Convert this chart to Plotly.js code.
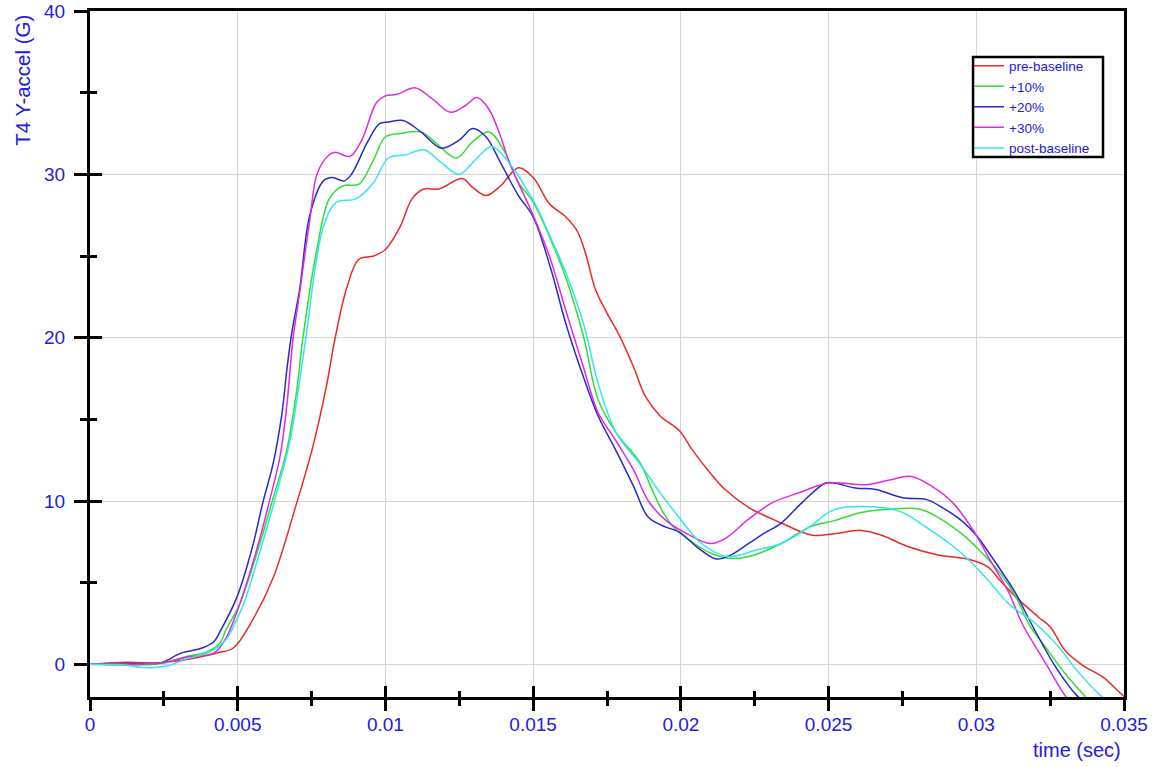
<!DOCTYPE html>
<html>
<head>
<meta charset="utf-8">
<script src="https://cdn.plot.ly/plotly-3.0.1.min.js"></script>
<style>html,body{margin:0;padding:0;background:#fff;}#chart{width:1157px;height:767px;}</style>
</head>
<body>
<div id="chart"></div>
<script>
// ---- data (time in sec, acceleration in G) ----
var seriesNames = ["pre-baseline", "+10%", "+20%", "+30%", "post-baseline"];

var preX = [0,0.00125,0.0024,0.0035,0.0043,0.00485,0.0055,0.0062,0.007,0.00754,0.008,0.0083,0.0087,0.0091,0.0096,0.01,0.0105,0.0109,0.0113,0.0118,0.0126,0.01295,0.0134,0.0139,0.0145,0.015,0.01555,0.0161,0.0165,0.0168,0.0171,0.0175,0.0179,0.0184,0.0188,0.0193,0.01995,0.0204,0.021,0.0215,0.0223,0.0234,0.02445,0.0252,0.0261,0.0268,0.0277,0.0287,0.0298,0.0304,0.0308,0.03135,0.0321,0.0325,0.033,0.0336,0.0343,0.0349,0.0351];
var preY = [0,0.12,0.1,0.37,0.7,1.0,2.7,5.3,9.9,13.3,17.0,20.0,23.1,24.8,25.0,25.4,26.8,28.5,29.1,29.1,29.75,29.2,28.7,29.3,30.4,29.8,28.2,27.4,26.5,25.0,23.0,21.5,20.2,18.2,16.4,15.2,14.3,13.1,11.7,10.7,9.6,8.65,7.9,8.0,8.2,7.9,7.2,6.7,6.4,5.95,5.15,4.1,2.9,2.3,0.86,-0.06,-0.8,-1.8,-2.1];

var p10X = [0,0.0024,0.0033,0.00395,0.0044,0.0046,0.00507,0.00575,0.0062,0.00666,0.007,0.0072,0.0077,0.0081,0.00856,0.0091,0.0096,0.01,0.0105,0.0112,0.0116,0.0124,0.01295,0.0135,0.014,0.0145,0.015,0.01555,0.0161,0.0167,0.0172,0.0178,0.0186,0.019,0.0194,0.0198,0.0203,0.0209,0.0216,0.0223,0.0234,0.02435,0.0252,0.0261,0.0271,0.0281,0.0287,0.0295,0.0301,0.0308,0.03135,0.0318,0.03235,0.033,0.03365,0.0338];
var p10Y = [0,0.05,0.5,0.75,1.3,2.1,3.7,7.4,10.2,13.1,16.8,19.9,25.6,28.5,29.3,29.4,30.9,32.3,32.5,32.6,32.1,31.0,32.0,32.6,31.5,29.5,28.3,26.2,23.7,20.1,16.2,14.2,12.4,10.8,9.3,8.3,7.6,6.9,6.5,6.6,7.4,8.4,8.8,9.3,9.5,9.5,9.0,8.0,7.0,5.6,4.1,2.4,1.04,-0.55,-1.9,-2.2];

var p20X = [0,0.0018,0.0024,0.0031,0.0038,0.0042,0.0044,0.00497,0.0055,0.00585,0.0062,0.0065,0.00666,0.00683,0.0071,0.00744,0.0079,0.0082,0.0086,0.00885,0.0094,0.0098,0.0101,0.0106,0.0112,0.0119,0.0125,0.01295,0.0134,0.0139,0.0145,0.015,0.0156,0.0161,0.0167,0.0172,0.0178,0.0184,0.0189,0.0195,0.01995,0.0206,0.0212,0.0217,0.0223,0.0228,0.0234,0.0241,0.0249,0.0252,0.0259,0.0266,0.0275,0.0283,0.02885,0.0295,0.03,0.0304,0.03135,0.0318,0.0327,0.0334,0.0336];
var p20Y = [0,0.05,0.1,0.7,1.0,1.4,2.0,4.1,7.2,9.9,12.3,15.4,18.0,20.3,23.0,27.5,29.6,29.8,29.6,30.0,32.0,33.1,33.2,33.3,32.6,31.6,32.1,32.8,32.3,30.7,28.7,27.4,24.2,20.9,17.6,15.2,13.1,10.9,9.0,8.4,8.1,7.1,6.45,6.7,7.4,8.0,8.65,9.9,11.1,11.1,10.8,10.7,10.2,10.1,9.6,8.8,7.9,6.9,4.3,2.7,-0.2,-1.9,-2.2];

var p30X = [0,0.0024,0.0033,0.0042,0.0046,0.00507,0.00564,0.00609,0.00643,0.00666,0.00687,0.0071,0.00744,0.0077,0.0081,0.0083,0.0088,0.0092,0.0097,0.01,0.0104,0.011,0.0116,0.0122,0.0127,0.0131,0.0135,0.0139,0.0142,0.015,0.01555,0.0161,0.0167,0.0172,0.0178,0.0184,0.0189,0.0195,0.0202,0.021,0.0215,0.0223,0.0231,0.024,0.025,0.0263,0.0271,0.0278,0.0285,0.0292,0.0299,0.0304,0.0311,0.03155,0.03235,0.033,0.0332];
var p30Y = [0,0.1,0.45,0.7,1.6,3.7,7.0,10.1,12.7,15.8,19.9,22.8,27.2,30.1,31.2,31.35,31.1,32.1,34.4,34.8,34.9,35.3,34.6,33.8,34.2,34.7,34.0,32.3,30.7,27.5,25.0,21.7,18.2,15.4,13.7,11.9,10.0,8.8,8.0,7.4,7.7,8.9,9.9,10.5,11.1,11.0,11.3,11.5,10.9,9.9,8.2,6.6,4.4,2.5,0.06,-1.9,-2.3];

var postX = [0,0.00125,0.0018,0.0026,0.0033,0.00405,0.0046,0.0049,0.0052,0.0058,0.00626,0.00676,0.0071,0.0073,0.0079,0.00835,0.009,0.0096,0.0101,0.0107,0.0113,0.0119,0.0125,0.0131,0.0136,0.0141,0.015,0.01555,0.0161,0.0167,0.0172,0.0178,0.0186,0.0193,0.01985,0.0207,0.0216,0.02255,0.0234,0.02435,0.025,0.0255,0.0268,0.0275,0.0283,0.0291,0.0298,0.0304,0.0311,0.032,0.0328,0.0334,0.0342,0.0344];
var postY = [0,-0.05,-0.2,-0.1,0.35,0.75,1.5,2.5,3.7,7.2,10.1,13.6,17.4,19.9,26.8,28.3,28.5,29.5,31.0,31.2,31.5,30.7,30.0,31.0,31.7,30.9,28.4,26.3,24.0,20.9,17.2,14.2,12.3,10.5,9.2,7.4,6.6,7.0,7.4,8.4,9.3,9.6,9.6,9.3,8.4,7.4,6.3,5.15,3.7,2.5,1.04,-0.37,-1.9,-2.2];

var xRange = [0, 0.035];
var yRange = [-2, 40];
var xTickVals = [0, 0.005, 0.01, 0.015, 0.02, 0.025, 0.03, 0.035];
var xTickText = ["0", "0.005", "0.01", "0.015", "0.02", "0.025", "0.03", "0.035"];
var xMinorVals = [0.0025, 0.0075, 0.0125, 0.0175, 0.0225, 0.0275, 0.0325];
var yTickVals = [0, 10, 20, 30, 40];
var yTickText = ["0", "10", "20", "30", "40"];
var yInnerTickVals = [10, 20, 30, 40];
var yMinorVals = [5, 15, 25, 35];

// ---- styling ----
var colors = ["#e82a2a", "#33dd33", "#2a2ac8", "#e02ae0", "#30e6f0"];
var txtBlue = "#2020e0";
var fontFam = "Liberation Sans, Arial, sans-serif";

var xs = [preX, p10X, p20X, p30X, postX];
var ys = [preY, p10Y, p20Y, p30Y, postY];
var traces = [];
for (var i = 0; i < xs.length; i++) {
  traces.push({
    x: xs[i], y: ys[i], name: seriesNames[i], type: "scatter", mode: "lines",
    line: {color: colors[i], width: 1.5, shape: "spline", smoothing: 1},
    hoverinfo: "skip"
  });
}
// empty trace to activate the overlay axes (inner half of crossing ticks)
traces.push({x: [], y: [], xaxis: "x2", yaxis: "y2", showlegend: false, mode: "lines"});

var layout = {
  width: 1157, height: 767,
  margin: {l: 90, r: 33, t: 11, b: 70},
  paper_bgcolor: "#ffffff", plot_bgcolor: "#ffffff",
  font: {family: fontFam, color: txtBlue, size: 19},
  showlegend: true,
  legend: {
    x: 0.8501, y: 0.9425, xanchor: "left", yanchor: "top",
    bgcolor: "rgba(0,0,0,0)", borderwidth: 0,
    font: {family: fontFam, size: 13.5, color: txtBlue},
    itemwidth: 30, tracegroupgap: 0
  },
  shapes: [
    {type: "rect", xref: "paper", yref: "paper", x0: 0.854, x1: 0.9797, y0: 0.7872, y1: 0.933,
     fillcolor: "#ffffff", line: {color: "#000000", width: 2.5}, layer: "above"}
  ],
  xaxis: {
    range: xRange, tickmode: "array", tickvals: xTickVals, ticktext: xTickText,
    ticks: "outside", ticklen: 11, tickwidth: 3, tickcolor: "#000",
    showline: true, linewidth: 3, linecolor: "#000", mirror: true,
    showgrid: true, gridcolor: "#d4d4d4", gridwidth: 1, zeroline: false,
    tickfont: {size: 19, color: txtBlue}, ticklabelstandoff: -3,
    minor: {tickmode: "array", tickvals: xMinorVals, ticks: "outside", ticklen: 6, tickwidth: 3, tickcolor: "#000", showgrid: false}
  },
  yaxis: {
    range: yRange, tickmode: "array", tickvals: yTickVals, ticktext: yTickText,
    ticks: "outside", ticklen: 13, tickwidth: 3, tickcolor: "#000",
    showline: true, linewidth: 3, linecolor: "#000", mirror: true,
    showgrid: true, gridcolor: "#d4d4d4", gridwidth: 1, zeroline: false,
    tickfont: {size: 19, color: txtBlue}, ticklabelstandoff: 5,
    minor: {tickmode: "array", tickvals: yMinorVals, ticks: "outside", ticklen: 7, tickwidth: 3, tickcolor: "#000", showgrid: false}
  },
  xaxis2: {
    overlaying: "x", anchor: "y2", side: "bottom", range: xRange,
    tickmode: "array", tickvals: xTickVals, showticklabels: false,
    ticks: "inside", ticklen: 11, tickwidth: 3, tickcolor: "#000",
    showline: false, showgrid: false, zeroline: false,
    minor: {tickmode: "array", tickvals: xMinorVals, ticks: "inside", ticklen: 6, tickwidth: 3, tickcolor: "#000", showgrid: false}
  },
  yaxis2: {
    overlaying: "y", anchor: "x2", side: "left", range: yRange,
    tickmode: "array", tickvals: yInnerTickVals, showticklabels: false,
    ticks: "inside", ticklen: 12, tickwidth: 3, tickcolor: "#000",
    showline: false, showgrid: false, zeroline: false,
    minor: {tickmode: "array", tickvals: yMinorVals, ticks: "inside", ticklen: 7, tickwidth: 3, tickcolor: "#000", showgrid: false}
  },
  annotations: [
    {text: "T4 Y-accel (G)", xref: "paper", yref: "paper", x: -0.065, y: 0.998,
     xanchor: "center", yanchor: "top", textangle: -90, showarrow: false,
     font: {family: fontFam, size: 20.5, color: txtBlue}},
    {text: "time (sec)", xref: "paper", yref: "paper", x: 0.999, y: -0.077,
     xanchor: "right", yanchor: "middle", showarrow: false,
     font: {family: fontFam, size: 20, color: txtBlue}}
  ]
};

Plotly.newPlot("chart", traces, layout, {displayModeBar: false, staticPlot: true});
</script>
</body>
</html>
